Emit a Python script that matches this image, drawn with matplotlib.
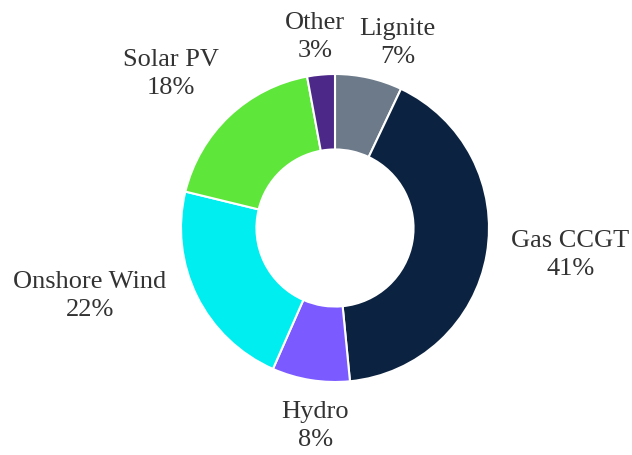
import matplotlib
matplotlib.use("Agg")
import matplotlib.pyplot as plt
import numpy as np

categories = ["Lignite", "Gas CCGT", "Hydro", "Onshore Wind", "Solar PV", "Other"]
values = [7.05, 41.4, 8.15, 22.2, 18.3, 2.9]
pct_labels = ["7%", "41%", "8%", "22%", "18%", "3%"]
colors = ["#6c7a89", "#0b2240", "#7b5bff", "#00eef0", "#5ee63a", "#4c2889"]

W, H = 632, 456
cx, cy, R = 335, 229, 154  # pixels (cy from top)
# per-label layout nudges in pixels (dx right, dy up)
nudges = [(19, -7), (11, 13), (11, -4.5), (-25.6, 41.4), (-15.6, -2), (-2.5, 0)]

fig = plt.figure(figsize=(W / 100, H / 100), dpi=100)
ax = fig.add_axes([0, 0, 1, 1])
wedges, _ = ax.pie(values, colors=colors, startangle=90, counterclock=False,
                   radius=1.0, wedgeprops=dict(width=0.49, edgecolor="white", linewidth=1.5))
ax.set_aspect("auto")
ax.set_xlim(-cx / R, (W - cx) / R)
ax.set_ylim(-(H - cy) / R, cy / R)
ax.axis("off")

fig.canvas.draw()
renderer = fig.canvas.get_renderer()
gap = 11.0
total = sum(values)
cum = 0.0
for cat, v, p, (nx, ny) in zip(categories, values, pct_labels, nudges):
    mid = cum + v / 2
    cum += v
    theta = np.deg2rad(90 - 360 * mid / total)
    dx, dy = np.cos(theta), np.sin(theta)
    t = ax.text(0, 0, f"{cat}\n{p}", ha="center", va="center", fontsize=19,
                color="#333333", family=["Liberation Serif", "DejaVu Serif"],
                linespacing=1.34, multialignment="center")
    bb = t.get_window_extent(renderer)
    hw, hh = bb.width / 2, bb.height / 2
    d = R + gap + abs(dx) * hw + abs(dy) * hh
    t.set_position(((d * dx + nx) / R, (d * dy + ny) / R))

fig.savefig("out.png", dpi=100)
